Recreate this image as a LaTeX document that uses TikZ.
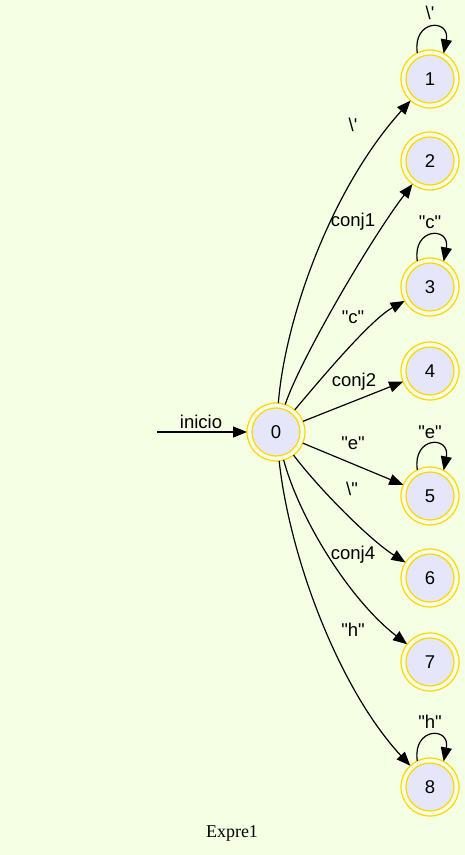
\documentclass[tikz,border=0pt]{standalone}
\usepackage{fontspec}
\setmainfont{Liberation Sans}[Ligatures=TeXOff]
\newfontfamily\capfont{Liberation Serif}
\usetikzlibrary{arrows.meta}
\definecolor{bg}{HTML}{F4FFE4}
\definecolor{lav}{HTML}{E6E6FA}
\definecolor{gld}{HTML}{FFD700}
\begin{document}
\begin{tikzpicture}[x=1pt,y=-1pt,
  state/.style={circle, minimum size=58pt, inner sep=0pt, outer sep=0pt, draw=gld, line width=1.2pt,
    path picture={\filldraw[fill=lav,draw=gld,line width=1.2pt] (path picture bounding box.center) circle (24pt);},
    font=\fontsize{18.5}{20}\selectfont},
  edgearr/.style={line width=1.2pt, -{Triangle[length=14pt,width=11pt]}},
  lbl/.style={inner sep=0pt, font=\fontsize{18.5}{20}\selectfont}]
\fill[bg] (0,0) rectangle (465,855);
\useasboundingbox (0,0) rectangle (465,855);
\node[state] (n0) at (276,432) {0};
\node[state] (n1) at (430,79) {1};
\node[state] (n2) at (430,161) {2};
\node[state] (n3) at (430,287) {3};
\node[state] (n4) at (430,371) {4};
\node[state] (n5) at (430,496) {5};
\node[state] (n6) at (430,578) {6};
\node[state] (n7) at (430,662) {7};
\node[state] (n8) at (430,787) {8};
\coordinate (s) at (157,432);
% initial
\draw[edgearr] (s) -- (n0);
\node[lbl] (li) at (201,422) {inicio};
% edges
\draw[edgearr] (n0) .. controls (285,320) and (330,190) .. (n1);
\draw[edgearr] (n0) .. controls (300,360) and (370,240) .. (n2);
\draw[edgearr] (n0) .. controls (320,380) and (370,320) .. (n3);
\draw[edgearr] (n0) -- (n4);
\draw[edgearr] (n0) -- (n5);
\draw[edgearr] (n0) .. controls (320,490) and (370,540) .. (n6);
\draw[edgearr] (n0) .. controls (300,520) and (350,600) .. (n7);
\draw[edgearr] (n0) .. controls (290,560) and (340,690) .. (n8);
\node[lbl] (e1) at (353,125) {\textbackslash'};
\node[lbl] (e2) at (353,222) {conj1};
\node[lbl] (e3) at (353,317) {"c"};
\node[lbl] (e4) at (354,382) {conj2};
\node[lbl] (e5) at (353,443) {"e"};
\node[lbl] (e6) at (352,489) {\textbackslash"};
\node[lbl] (e7) at (353,555) {conj4};
\node[lbl] (e8) at (353,630) {"h"};
% loops
\draw[edgearr] (n1.116) .. controls +(-5,-34) and +(7,-35) .. (n1.62);
\draw[edgearr] (n3.116) .. controls +(-5,-34) and +(7,-35) .. (n3.62);
\draw[edgearr] (n5.116) .. controls +(-5,-34) and +(7,-35) .. (n5.62);
\draw[edgearr] (n8.116) .. controls +(-5,-34) and +(7,-35) .. (n8.62);
\node[lbl] (ll1) at (430,13) {\textbackslash'};
\node[lbl] (ll3) at (430,222) {"c"};
\node[lbl] (ll5) at (430,432) {"e"};
\node[lbl] (ll8) at (430,722) {"h"};
\node[inner sep=0pt, font=\capfont\fontsize{18}{20}\selectfont] (cap) at (232,833) {Expre1};
\end{tikzpicture}
\end{document}
